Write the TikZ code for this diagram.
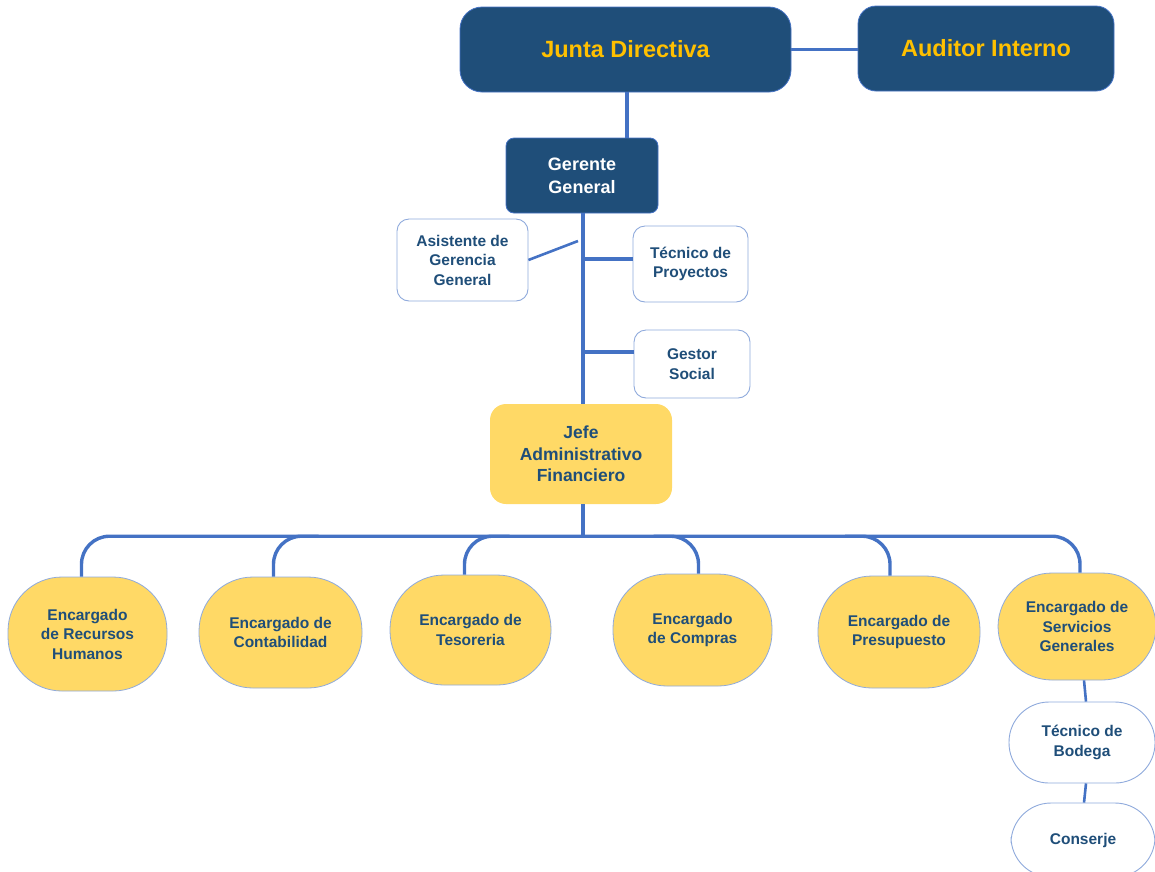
\documentclass[tikz,border=0pt]{standalone}
\usepackage{fontspec}
\setmainfont{Liberation Sans}[BoldFont={Liberation Sans Bold}]
\usetikzlibrary{calc}
\definecolor{navy}{HTML}{1F4E79}
\definecolor{gold}{HTML}{FFC000}
\definecolor{linkblue}{HTML}{4472C4}
\definecolor{yel}{HTML}{FFD966}
\definecolor{edgeb}{HTML}{8FAADC}
\begin{document}
\begin{tikzpicture}[x=1pt,y=-1pt,
  darkbox/.style={draw=linkblue,line width=0.8pt,fill=navy,align=center,inner sep=2pt},
  whitebox/.style={draw=edgeb,line width=0.9pt,fill=white,rounded corners=12,align=center,text=navy,
     font=\fontsize{15.5}{19.5}\selectfont\bfseries,inner sep=2pt},
  pill/.style={draw=edgeb,line width=0.8pt,fill=yel,rounded corners=54,align=center,text=navy,
     font=\fontsize{15.5}{19.5}\selectfont\bfseries,inner sep=2pt},
  wpill/.style={draw=edgeb,line width=0.9pt,fill=white,rounded corners=40,align=center,text=navy,
     font=\fontsize{15.5}{19.5}\selectfont\bfseries,inner sep=2pt},
  link/.style={draw=linkblue,line width=3.4pt},
  bus/.style={draw=linkblue,line width=3.4pt,rounded corners=28}]
\useasboundingbox (0,0) rectangle (1155,871);

% top
\node[darkbox,rounded corners=22,minimum width=331,minimum height=85,text=gold,
  font=\fontsize{23.5}{28}\selectfont\bfseries] (junta) at (625.5,49.5) {Junta Directiva};
\node[darkbox,rounded corners=18,minimum width=256,minimum height=85,text=gold,
  font=\fontsize{23.5}{28}\selectfont\bfseries] (aud) at (986,48.5) {Auditor Interno};
\node[darkbox,rounded corners=8,minimum width=152,minimum height=75,text=white,
  font=\fontsize{18}{23}\selectfont\bfseries] (ger) at (582,175.5) {Gerente\\General};

% staff
\node[whitebox,minimum width=131,minimum height=82] (asis) at (462.5,260) {Asistente de\\Gerencia\\General};
\node[whitebox,minimum width=115,minimum height=76] (tp) at (690.5,264) {Técnico de\\Proyectos};
\node[whitebox,minimum width=116,minimum height=68] (gs) at (692,364) {Gestor\\Social};

% jefe
\node[fill=yel,rounded corners=16,minimum width=182,minimum height=100,align=center,text=navy,
  font=\fontsize{17.5}{21.5}\selectfont\bfseries] (jefe) at (581,454) {Jefe\\Administrativo\\Financiero};

% encargados
\node[pill,minimum width=159,minimum height=114] (rh) at (87.5,634) {Encargado\\de Recursos\\Humanos};
\node[pill,minimum width=163,minimum height=111] (cont) at (280.5,632.5) {Encargado de\\Contabilidad};
\node[pill,minimum width=161,minimum height=110] (tes) at (470.5,630) {Encargado de\\Tesoreria};
\node[pill,minimum width=159,minimum height=112] (comp) at (692.5,630) {Encargado\\de Compras};
\node[pill,minimum width=162,minimum height=112] (pres) at (899,632) {Encargado de\\Presupuesto};
\node[pill,minimum width=158,minimum height=107] (serv) at (1077,626.5) {Encargado de\\Servicios\\Generales};
\node[wpill,minimum width=146,minimum height=81] (bod) at (1082,742.5) {Técnico de\\Bodega};
\node[wpill,minimum width=144,minimum height=74] (con) at (1083,840) {Conserje};

% connectors
\draw[link] (junta.east) -- (junta.east -| aud.west);
\coordinate (jtop) at ($(junta.south)+(1.5,0)$);
\draw[link] (jtop) -- (jtop |- ger.north);
\coordinate (trunk) at ($(ger.south)+(1,0)$);
\draw[link] (trunk) -- (trunk |- jefe.north);
\coordinate (asisend) at (578,241);
\draw[link,line width=2.6pt] (asis.east) -- (asisend);
\coordinate (tpw) at ($(tp.west)+(0,-5)$);
\coordinate (gsw) at ($(gs.west)+(0,-12)$);
\draw[link] (tpw) -- (tpw -| trunk);
\draw[link] (gsw) -- (gsw -| trunk);

\coordinate (busc) at ($(jefe.south)+(2,32)$);
\draw[link] ($(jefe.south)+(2,0)$) -- (busc);
% bus with outer branches
\coordinate (brh) at ($(rh.north)+(-6,0)$);
\coordinate (bserv) at ($(serv.north)+(3,0)$);
\draw[bus] (brh) -- (brh |- busc) -- (bserv |- busc) -- (bserv);
% inner branches
\coordinate (bcont) at ($(cont.north)+(-7,0)$);
\coordinate (btes) at ($(tes.north)+(-6,0)$);
\coordinate (bcomp) at ($(comp.north)+(6,0)$);
\coordinate (bpres) at ($(pres.north)+(-9,0)$);
\draw[bus] ($(bcont |- busc)+(45,0)$) -- (bcont |- busc) -- (bcont);
\draw[bus] ($(btes |- busc)+(45,0)$) -- (btes |- busc) -- (btes);
\draw[bus] ($(bcomp |- busc)+(-45,0)$) -- (bcomp |- busc) -- (bcomp);
\draw[bus] ($(bpres |- busc)+(-45,0)$) -- (bpres |- busc) -- (bpres);

\draw[link,line width=2.6pt] ($(serv.south)+(7,0)$) -- ($(bod.north)+(4,0)$);
\draw[link,line width=2.6pt] ($(bod.south)+(4,0)$) -- ($(con.north)+(1,0)$);
\end{tikzpicture}
\end{document}
